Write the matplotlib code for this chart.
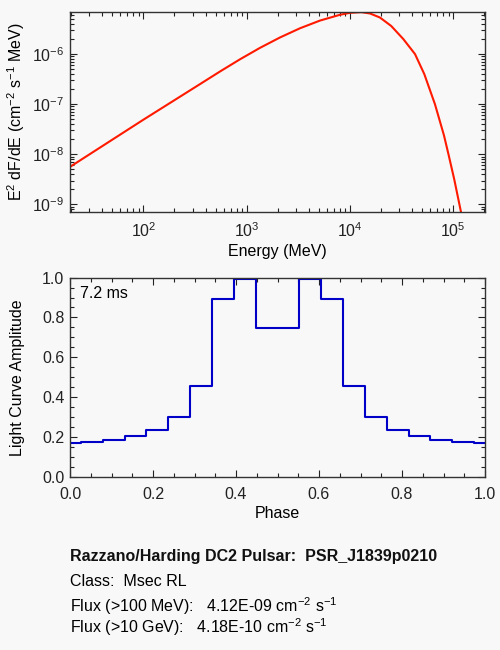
import numpy as np
import matplotlib
matplotlib.use('Agg')
import matplotlib.pyplot as plt
from matplotlib.ticker import MultipleLocator, LogLocator, NullFormatter

plt.rcParams['font.family'] = ['Liberation Sans', 'DejaVu Sans']
plt.rcParams['mathtext.fontset'] = 'custom'
plt.rcParams['mathtext.rm'] = 'Liberation Sans'
plt.rcParams['mathtext.default'] = 'regular'

# widmo
energia = [19.5, 100, 353, 552, 861, 1346, 2099, 3281, 5129, 8000, 10000, 12880,
           15630, 19500, 25120, 32810, 42660, 52480, 66530, 81280, 89950, 102300,
           114800, 123000]
e2dfde = [5.62e-9, 4.90e-8, 2.51e-7, 4.49e-7, 7.85e-7, 1.33e-6, 2.14e-6, 3.27e-6,
          4.66e-6, 6.08e-6, 6.65e-6, 6.86e-6, 6.46e-6, 5.37e-6, 3.63e-6, 2.00e-6,
          1.0e-6, 3.98e-7, 1.0e-7, 2.40e-8, 1.0e-8, 3.16e-9, 1.0e-9, 5.0e-10]

# krzywa blasku, 19 binow + powtorzony pierwszy
faza = [k / 19 for k in range(20)]
amplituda = [0.170, 0.177, 0.187, 0.208, 0.238, 0.302, 0.457, 0.895, 0.993, 0.745,
             0.745, 0.993, 0.895, 0.457, 0.302, 0.238, 0.208, 0.187, 0.177, 0.170]

okres = '7.2 ms'
nazwa = 'PSR_J1839p0210'
klasa = 'Msec RL'
flux100 = '4.12E-09'
flux10g = '4.18E-10'

tlo = '#f8f8f8'
fig = plt.figure(figsize=(5, 6.5), dpi=100, facecolor=tlo)

def styl(ax):
    ax.set_facecolor(tlo)
    ax.tick_params(which='both', direction='in', top=True, right=True, labelsize=11.5,
                   colors='#222222', width=0.8)
    ax.tick_params(which='major', length=5, pad=7)
    ax.tick_params(which='minor', length=3)
    for s in ax.spines.values():
        s.set_color('#333333')
        s.set_linewidth(1.0)

# gorny panel - widmo
ax1 = fig.add_axes([0.14, 0.674, 0.83, 0.307])
ax1.loglog(energia, e2dfde, color='#ff1a00', lw=1.5, solid_joinstyle='round')
ax1.set_xlim(19.5, 2.03e5)
ax1.set_ylim(7.1e-10, 6.8e-6)
ax1.yaxis.set_major_locator(LogLocator(base=10, numticks=10))
ax1.yaxis.set_minor_locator(LogLocator(base=10, subs=np.arange(2, 10), numticks=10))
ax1.yaxis.set_minor_formatter(NullFormatter())
ax1.xaxis.set_minor_formatter(NullFormatter())
styl(ax1)
ax1.tick_params(axis='y', which='major', pad=4)
ax1.set_xlabel('Energy (MeV)', fontsize=11.5, labelpad=3)
ax1.set_ylabel(r'E$^2$ dF/dE (cm$^{-2}$ s$^{-1}$ MeV)', fontsize=11.5, labelpad=4)

# dolny panel - krzywa blasku
ax2 = fig.add_axes([0.14, 0.266, 0.83, 0.307])
ax2.plot(faza, amplituda, drawstyle='steps-mid', color='#0000c8', lw=1.5)
ax2.set_xlim(0, 1)
ax2.set_ylim(0, 1.0)
ax2.xaxis.set_major_locator(MultipleLocator(0.2))
ax2.xaxis.set_minor_locator(MultipleLocator(0.05))
ax2.yaxis.set_major_locator(MultipleLocator(0.2))
ax2.yaxis.set_minor_locator(MultipleLocator(0.05))
ax2.xaxis.set_major_formatter(plt.FormatStrFormatter('%.1f'))
ax2.yaxis.set_major_formatter(plt.FormatStrFormatter('%.1f'))
styl(ax2)
ax2.tick_params(axis='y', which='major', pad=4)
fig.canvas.draw()
ylab = ax2.get_yticklabels()
ylab[0].set_va('bottom')
ylab[-1].set_va('top')
ax2.set_xlabel('Phase', fontsize=11.5, labelpad=3)
ax2.set_ylabel('Light Curve Amplitude', fontsize=11.5, labelpad=12)
ax2.text(0.025, 0.96, okres, transform=ax2.transAxes, fontsize=11.5, va='top', ha='left')

# opis
fig.text(0.14, 1 - 556 / 650, 'Razzano/Harding DC2 Pulsar:  ' + nazwa, fontsize=11.5,
         fontweight='bold', va='center', color='#111111')
fig.text(0.14, 1 - 582 / 650, 'Class:  ' + klasa, fontsize=11.5, va='center')
fig.text(0.14, 1 - 606 / 650, r'Flux (>100 MeV):   ' + flux100 + r' cm$^{-2}$ s$^{-1}$',
         fontsize=11.5, va='center')
fig.text(0.14, 1 - 627 / 650, r'Flux (>10 GeV):   ' + flux10g + r' cm$^{-2}$ s$^{-1}$',
         fontsize=11.5, va='center')

fig.savefig('out.png', dpi=100, facecolor=tlo)
